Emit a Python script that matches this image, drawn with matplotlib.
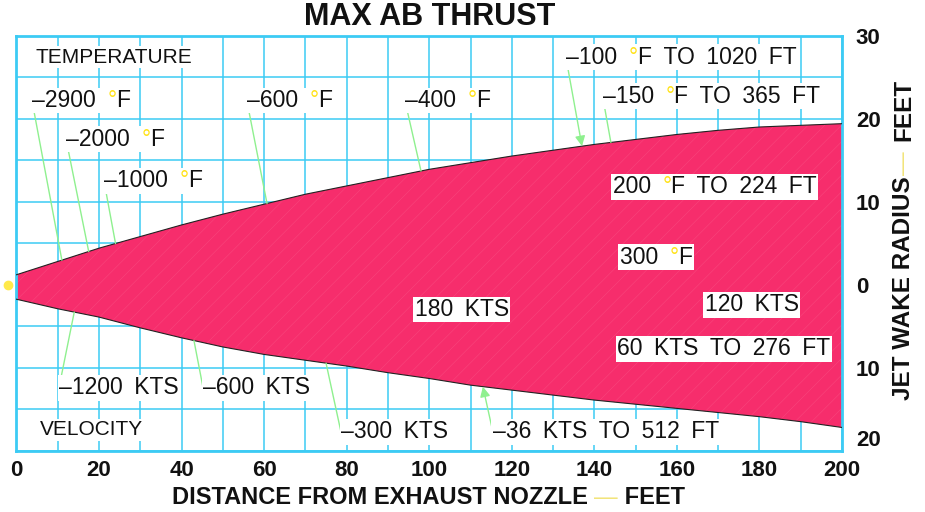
import matplotlib
matplotlib.use("Agg")
import matplotlib.pyplot as plt
import numpy as np
from matplotlib.offsetbox import TextArea, HPacker, AnnotationBbox

# ---- jet wake envelope (feet) ----
distance = [0, 10, 20, 30, 40, 50, 60, 70, 80, 90, 100,
            110, 120, 130, 140, 150, 160, 170, 180, 190, 200]
upper_radius = [1.2, 2.8, 4.4, 5.8, 7.2, 8.5, 9.7, 10.9, 11.9, 12.9, 13.9,
                14.7, 15.5, 16.2, 16.9, 17.5, 18.1, 18.6, 19.0, 19.2, 19.4]
lower_radius = [-1.75, -2.9, -3.9, -5.2, -6.4, -7.5, -8.4, -9.1, -9.8, -10.6, -11.3,
                -12.1, -12.7, -13.3, -13.9, -14.4, -14.9, -15.4, -15.9, -16.5, -17.2]

# ---- axis ticks ----
x_ticks = [0, 20, 40, 60, 80, 100, 120, 140, 160, 180, 200]
y_ticks = [-20, -10, 0, 10, 20, 30]
y_tick_labels = ["20", "10", "0", "10", "20", "30"]

# ---- contour annotations ----
temp_values = [2900, 2000, 1000, 600, 400, 100, 150, 200, 300]      # deg F
temp_reach_ft = [None, None, None, None, None, 1020, 365, 224, None]
temp_on_edge = [11, 17.5, 24, 60.7, 98, 137, 144, None, None]      # where leader meets wake

vel_values = [1200, 600, 300, 180, 120, 60, 36]                      # knots
vel_reach_ft = [None, None, None, None, None, 276, 512]
vel_on_edge = [14, 43, 75, None, None, None, 113]

title = "MAX AB THRUST"
x_title = "DISTANCE FROM EXHAUST NOZZLE"
y_title = "JET WAKE RADIUS"
unit = "FEET"

# label layout: (x, y, leader style)
temp_layout = [(3.75, 22.2, "line"), (12.0, 17.55, "line"), (21.2, 12.5, "line"),
               (55.8, 22.2, "line"), (94.1, 22.2, "line"), (133.1, 27.4, "arrow"),
               (142.0, 22.7, "line"), (144.4, 11.8, None), (146.1, 3.3, None)]
vel_layout = [(10.3, -12.4, "line"), (45.2, -12.4, "line"), (78.6, -17.7, "line"),
              (96.5, -3.0, None), (166.7, -2.4, None), (145.6, -7.7, None),
              (115.4, -17.7, "arrow")]

FONT = "Liberation Sans"
INK = "#111111"
GRID = "#3CCBF4"
WAKE = "#F62D6C"
WAKE_TEXTURE = "#F8467C"
LEADER = "#8FF08F"
YELLOW = "#FFE21A"
PALE_YELLOW = "#F2E47A"
SP = "\u2002"   # en space between words

plt.rcParams["hatch.linewidth"] = 0.4

fig = plt.figure(figsize=(9.25, 5.12), dpi=100)
ax = fig.add_axes([0.0178, 0.1197, 0.8925, 0.8106])
ax.set_xlim(0, 200)
ax.set_ylim(-20, 30)

# grid: 10 ft across, 5 ft vertically
ax.set_xticks(x_ticks)
ax.set_xticks(np.arange(0, 201, 10), minor=True)
ax.set_yticks(y_ticks)
ax.set_yticks(np.arange(-20, 31, 5), minor=True)
ax.grid(True, which="both", color=GRID, lw=1.1, zorder=0)
ax.set_axisbelow(True)
for s in ax.spines.values():
    s.set_color(GRID)
    s.set_linewidth(2.0)

ax.yaxis.tick_right()
ax.set_yticklabels(y_tick_labels)
ax.tick_params(which="both", length=0)
ax.tick_params(axis="y", pad=10)
ax.tick_params(axis="x", pad=7)
for lab in ax.get_xticklabels() + ax.get_yticklabels():
    lab.set_fontfamily(FONT)
    lab.set_fontweight("bold")
    lab.set_fontsize(16)
    lab.set_color(INK)
ax.get_yticklabels()[0].set_verticalalignment("bottom")

# wake envelope with a faint diagonal texture
d = np.array(distance)
up = np.array(upper_radius)
lo = np.array(lower_radius)
ax.fill_between(d, lo, up, facecolor=WAKE, edgecolor=WAKE_TEXTURE, lw=0,
                hatch="//", zorder=2)
ax.plot(d, up, color="#222222", lw=0.8, zorder=3)
ax.plot(d, lo, color="#222222", lw=0.8, zorder=3)
ax.plot([-2], [0], "o", color="#FFE94A", ms=6, clip_on=False, zorder=6)


def text_box(pieces, x, y, fs=16.5, coords="data", align=(0, 0.5), frame=True):
    areas = [TextArea(t, textprops=dict(color=c, fontsize=fs, family=FONT,
                                        fontweight=w))
             for t, c, w in pieces]
    pack = HPacker(children=areas, align="baseline", pad=0, sep=0)
    ab = AnnotationBbox(pack, (x, y), xycoords=coords, box_alignment=align,
                        frameon=frame, pad=0.1,
                        bboxprops=dict(fc="white", ec="none"), zorder=5,
                        annotation_clip=False)
    ax.add_artist(ab)


def leader(x, y, target_x, edge, style):
    ty = float(np.interp(target_x, d, edge))
    if style == "arrow":
        props = dict(arrowstyle="-|>", color=LEADER, lw=1.0, mutation_scale=15,
                     shrinkA=0, shrinkB=0)
    else:
        props = dict(arrowstyle="-", color=LEADER, lw=1.0, shrinkA=0, shrinkB=0)
    ax.annotate("", xy=(target_x, ty), xytext=(x, y), arrowprops=props, zorder=4)


# temperature contours
for val, reach, edge_x, (x, y, style) in zip(temp_values, temp_reach_ft,
                                             temp_on_edge, temp_layout):
    if style:
        leader(x, y, edge_x, up, style)
    dash = "–" if style else ""
    rest = "F" if reach is None else f"F{SP}TO{SP}{reach}{SP}FT"
    text_box([(f"{dash}{val}{SP}", INK, "normal"), ("°", YELLOW, "normal"),
              (rest, INK, "normal")], x, y)

# velocity contours
for val, reach, edge_x, (x, y, style) in zip(vel_values, vel_reach_ft,
                                             vel_on_edge, vel_layout):
    if style:
        leader(x, y, edge_x, lo, style)
    dash = "–" if style else ""
    txt = f"{dash}{val}{SP}KTS"
    if reach is not None:
        txt += f"{SP}TO{SP}{reach}{SP}FT"
    text_box([(txt, INK, "normal")], x, y)

text_box([("TEMPERATURE", INK, "normal")], 4.5, 27.4, fs=15)
text_box([("VELOCITY", INK, "normal")], 5.7, -17.5, fs=15)

# titles
fig.text(0.464, 0.966, title, ha="center", va="center", fontsize=22,
         fontweight="bold", family=FONT, color=INK)
text_box([(x_title + " ", INK, "bold"), ("—", PALE_YELLOW, "normal"),
          (" " + unit, INK, "bold")], 0.499, -0.112, fs=17,
         coords="axes fraction", align=(0.5, 0.5), frame=False)
ax.text(1.0745, 0.392, y_title, rotation=90, ha="center", va="center",
        transform=ax.transAxes, fontsize=17.5, fontweight="bold", family=FONT,
        color=INK)
ax.text(1.0745, 0.693, "—", rotation=90, ha="center", va="center",
        transform=ax.transAxes, fontsize=17, family=FONT, color=PALE_YELLOW)
ax.text(1.0745, 0.822, unit, rotation=90, ha="center", va="center",
        transform=ax.transAxes, fontsize=17.5, fontweight="bold", family=FONT,
        color=INK)

fig.savefig("out.png", dpi=100)
